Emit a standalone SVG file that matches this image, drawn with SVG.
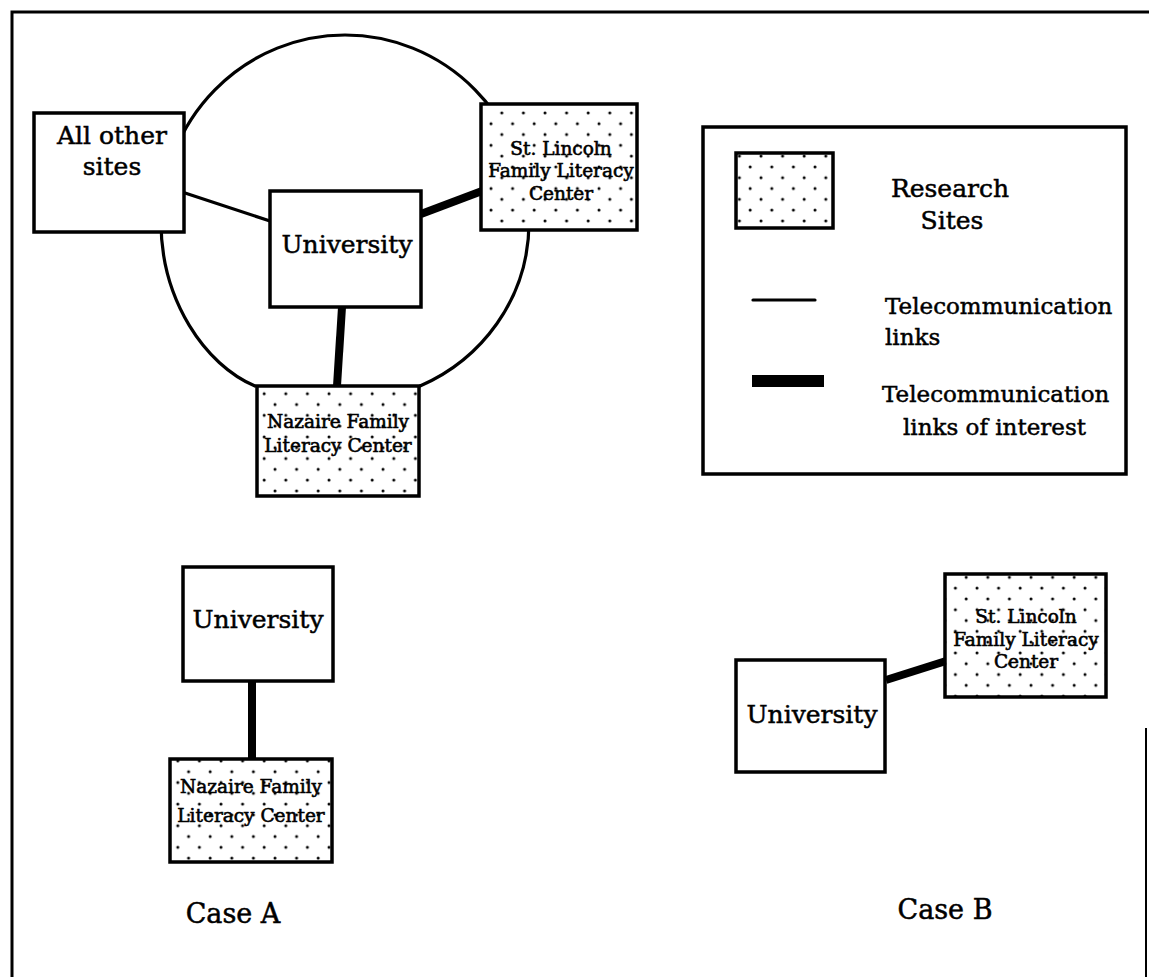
<svg xmlns="http://www.w3.org/2000/svg" width="1149" height="977" viewBox="0 0 1149 977">
  <style>
    .box { fill: #fff; stroke: #000; stroke-width: 3.5; }
    .site { fill: url(#dots); stroke: #000; stroke-width: 3.5; }
    .lbl { font-family: "DejaVu Serif", "Liberation Serif", serif; fill: #000; stroke: #000; stroke-width: 0.5; text-anchor: middle; }
    .start { text-anchor: start; }
    .big { font-size: 25px; }
    .mid { font-size: 23px; }
    .small { font-size: 18.5px; stroke-width: 0.6; }
    .thin { stroke: #000; stroke-width: 3.2; fill: none; stroke-linecap: round; }
    .thick { stroke: #000; stroke-width: 8; fill: none; }
  </style>
  <defs>
    <!-- staggered stipple used for research sites -->
    <pattern id="dots" width="21.6" height="21.6" patternUnits="userSpaceOnUse">
      <rect width="21.6" height="21.6" fill="#fff"/>
      <circle cx="5" cy="5" r="1.5" fill="#000"/>
      <circle cx="15.8" cy="15.8" r="1.5" fill="#000"/>
    </pattern>
  </defs>

  <rect width="1149" height="977" fill="#fff"/>

  <!-- page frame -->
  <g id="frame" fill="none" stroke="#000">
    <path d="M12 977 V12 H1149" stroke-width="3"/>
    <path d="M1146 728 V977" stroke-width="2"/>
  </g>

  <!-- network ring -->
  <g id="ring">
    <path class="thin" d="M255 386 C205 365 161 300 161 222 A184 187 0 0 1 345 35 A184 187 0 0 1 529 222 C529 300 480 360 420 386"/>
  </g>

  <!-- connectors -->
  <g id="connectors">
    <line class="thin" x1="185" y1="193" x2="270" y2="221"/>
    <line class="thick" x1="421" y1="214" x2="482" y2="191" stroke-width="7"/>
    <line class="thick" x1="342" y1="307" x2="337" y2="386"/>
    <line class="thick" x1="252" y1="681" x2="252" y2="759"/>
    <line class="thick" x1="886" y1="680" x2="946" y2="661" stroke-width="7"/>
  </g>

  <!-- Upper network -->
  <g id="all-other-sites">
    <rect class="box" x="34" y="113" width="150" height="119"/>
    <text class="lbl big" x="112" y="144">All  other</text>
    <text class="lbl big" x="112" y="175">sites</text>
  </g>

  <g id="university-main">
    <rect class="box" x="270" y="191" width="151" height="116"/>
    <text class="lbl big" x="347" y="253">University</text>
  </g>

  <g id="st-lincoln-main">
    <rect class="site" x="481" y="104" width="156" height="126"/>
    <text class="lbl small" x="561" y="155">St. Lincoln</text>
    <text class="lbl small" x="561" y="177">Family Literacy</text>
    <text class="lbl small" x="561" y="200">Center</text>
  </g>

  <g id="nazaire-main">
    <rect class="site" x="257" y="386" width="162" height="110"/>
    <text class="lbl small" x="338" y="428">Nazaire Family</text>
    <text class="lbl small" x="338" y="452">Literacy Center</text>
  </g>

  <!-- Legend -->
  <g id="legend">
    <rect class="box" x="703" y="127" width="423" height="347"/>
    <rect class="site" x="736" y="153" width="97" height="75"/>
    <text class="lbl big" x="950" y="197">Research</text>
    <text class="lbl big" x="952" y="229">Sites</text>
    <line class="thin" x1="753" y1="300" x2="815" y2="300"/>
    <text class="lbl mid start" x="885" y="314">Telecommunication</text>
    <text class="lbl mid start" x="885" y="345">links</text>
    <rect x="752" y="375" width="72" height="12" fill="#000"/>
    <text class="lbl mid start" x="882" y="402">Telecommunication</text>
    <text class="lbl mid start" x="903" y="435">links of interest</text>
  </g>

  <!-- Case A -->
  <g id="university-a">
    <rect class="box" x="183" y="567" width="150" height="114"/>
    <text class="lbl big" x="258" y="628">University</text>
  </g>
  <g id="nazaire-a">
    <rect class="site" x="170" y="759" width="162" height="103"/>
    <text class="lbl small" x="251" y="793">Nazaire Family</text>
    <text class="lbl small" x="251" y="822">Literacy Center</text>
  </g>
  <text id="case-a" class="lbl" x="233" y="923" font-size="27">Case A</text>

  <!-- Case B -->
  <g id="university-b">
    <rect class="box" x="736" y="660" width="149" height="112"/>
    <text class="lbl big" x="812" y="723">University</text>
  </g>
  <g id="st-lincoln-b">
    <rect class="site" x="945" y="574" width="161" height="123"/>
    <text class="lbl small" x="1026" y="623">St. Lincoln</text>
    <text class="lbl small" x="1026" y="646">Family Literacy</text>
    <text class="lbl small" x="1026" y="668">Center</text>
  </g>
  <text id="case-b" class="lbl" x="945" y="919" font-size="27">Case B</text>
</svg>
